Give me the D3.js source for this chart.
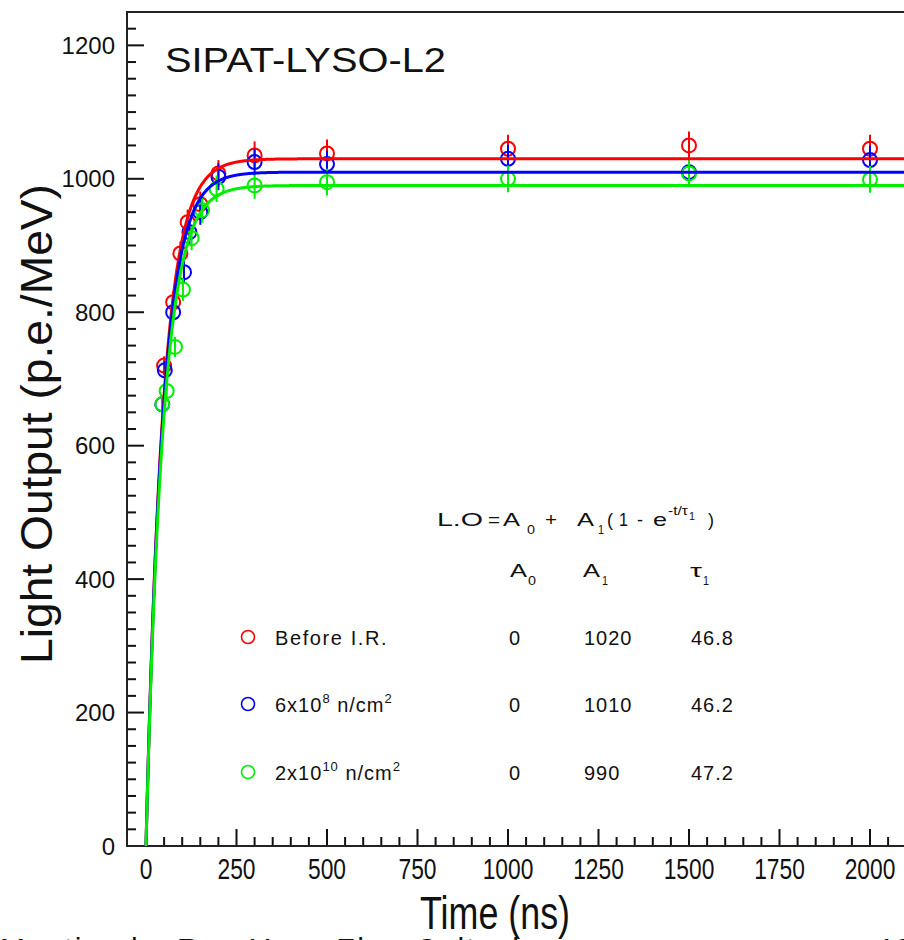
<!DOCTYPE html>
<html>
<head>
<meta charset="utf-8">
<script src="https://cdn.jsdelivr.net/npm/d3@7"></script>
<style>
  body { margin: 0; background: #fff; }
  svg { display: block; font-family: "Liberation Sans", Arial, Helvetica, sans-serif; }
</style>
</head>
<body>
<div id="chart"></div>
<script>
// --- data ---
const redTime   = [50, 75, 95, 115, 150, 200, 300, 500, 1000, 1500, 2000];
const redLO     = [720, 815, 888, 935, 962, 1008, 1035, 1038, 1045, 1050, 1045];
const redErr    = [14, 16, 18, 19, 19, 20, 21, 21, 21, 21, 21];

const blueTime  = [45, 52, 75, 105, 120, 150, 200, 300, 500, 1000, 1500, 2000];
const blueLO    = [662, 713, 800, 860, 920, 950, 1003, 1025, 1022, 1030, 1010, 1028];
const blueErr   = [13, 14, 16, 17, 18, 19, 20, 20, 20, 21, 20, 21];

const greenTime = [45, 57, 80, 102, 126, 155, 195, 300, 500, 1000, 1500, 2000];
const greenLO   = [662, 682, 748, 834, 911, 953, 985, 990, 995, 1000, 1008, 999];
const greenErr  = [13, 14, 15, 17, 18, 19, 20, 20, 20, 20, 20, 20];

// fit curves L.O = A0 + A1(1 - exp(-t/tau1)), plateau as drawn
const fitA0  = [0, 0, 0];
const fitA1  = [1030, 1010, 990];
const fitTau = [46.8, 46.2, 47.2];

// table text
const tableA0  = ["0", "0", "0"];
const tableA1  = ["1020", "1010", "990"];
const tableTau = ["46.8", "46.2", "47.2"];

const xTicks = [0, 250, 500, 750, 1000, 1250, 1500, 1750, 2000];
const yTicks = [0, 200, 400, 600, 800, 1000, 1200];

const colors = ["#ff0000", "#0000ff", "#00ee00"];

// --- layout ---
const W = 904, H = 940;
const plotLeft = 127, plotTop = 12, plotBottom = 846;

const svg = d3.select("#chart").append("svg").attr("width", W).attr("height", H);

const x = d3.scaleLinear().domain([0, 2000]).range([146, 870]);
const y = d3.scaleLinear().domain([0, 1250]).range([plotBottom, plotTop]);

svg.append("clipPath").attr("id", "plot-clip")
  .append("rect").attr("x", plotLeft).attr("y", plotTop)
  .attr("width", W - plotLeft).attr("height", plotBottom - plotTop);

// ticks pointing inward, drawn by hand
const yMinor = d3.range(0, 1250, 25);
const xMinor = d3.range(0, 2300, 50).filter(v => x(v) <= W);

svg.append("g").selectAll("line").data(yMinor).join("line")
  .attr("x1", plotLeft).attr("x2", d => plotLeft + (d % 200 === 0 ? 17 : 9))
  .attr("y1", d => y(d)).attr("y2", d => y(d))
  .attr("stroke", "#111").attr("stroke-width", 2);

svg.append("g").selectAll("line").data(xMinor).join("line")
  .attr("x1", d => x(d)).attr("x2", d => x(d))
  .attr("y1", plotBottom).attr("y2", d => plotBottom - (d % 250 === 0 ? 17 : 9))
  .attr("stroke", "#111").attr("stroke-width", 2);

// tick labels
svg.append("g").selectAll("text").data(yTicks).join("text")
  .attr("x", 115).attr("y", d => y(d)).attr("dy", "0.36em")
  .attr("text-anchor", "end").attr("font-size", 24).attr("fill", "#111")
  .text(d => d);

svg.append("g").selectAll("text").data(xTicks).join("text")
  .attr("transform", d => `translate(${x(d)},${plotBottom + 33}) scale(0.76,1)`)
  .attr("text-anchor", "middle").attr("font-size", 30).attr("fill", "#111")
  .text(d => d);

// frame
svg.append("path")
  .attr("d", `M${W},${plotTop} L${plotLeft},${plotTop} L${plotLeft},${plotBottom} L${W},${plotBottom}`)
  .attr("fill", "none").attr("stroke", "#222").attr("stroke-width", 2);

// series
const series = [
  { t: redTime, v: redLO, e: redErr },
  { t: blueTime, v: blueLO, e: blueErr },
  { t: greenTime, v: greenLO, e: greenErr }
];

const plot = svg.append("g").attr("clip-path", "url(#plot-clip)");
const tGrid = d3.range(0, 2400, 1);
const line = d3.line().x(d => x(d[0])).y(d => y(d[1]));

series.forEach((s, i) => {
  const pts = s.t.map((t, j) => ({ t: t, v: s.v[j], e: s.e[j] }));
  const g = plot.append("g");
  g.selectAll("line.err").data(pts).join("line")
    .attr("class", "err")
    .attr("x1", d => x(d.t)).attr("x2", d => x(d.t))
    .attr("y1", d => y(d.v + d.e)).attr("y2", d => y(d.v - d.e))
    .attr("stroke", colors[i]).attr("stroke-width", 2);
  g.selectAll("circle").data(pts).join("circle")
    .attr("cx", d => x(d.t)).attr("cy", d => y(d.v)).attr("r", 7)
    .attr("fill", "none").attr("stroke", colors[i]).attr("stroke-width", 2);
});

series.forEach((s, i) => {
  const curve = tGrid.map(t => [t, fitA0[i] + fitA1[i] * (1 - Math.exp(-t / fitTau[i]))]);
  plot.append("path").datum(curve)
    .attr("d", line).attr("fill", "none")
    .attr("stroke", colors[i]).attr("stroke-width", 3);
});

// title inside plot
svg.append("text").attr("x", 165).attr("y", 72)
  .attr("font-size", 35).attr("fill", "#111")
  .attr("textLength", 281).attr("lengthAdjust", "spacingAndGlyphs")
  .text("SIPAT-LYSO-L2");

// axis titles
svg.append("text")
  .attr("transform", "translate(52,424) rotate(-90)")
  .attr("text-anchor", "middle").attr("font-size", 45).attr("fill", "#111")
  .attr("textLength", 480).attr("lengthAdjust", "spacingAndGlyphs")
  .text("Light Output (p.e./MeV)");

svg.append("text").attr("x", 420).attr("y", 929)
  .attr("font-size", 46).attr("fill", "#111")
  .attr("textLength", 150).attr("lengthAdjust", "spacingAndGlyphs")
  .text("Time (ns)");

// clipped footer of the slide
svg.append("text").attr("x", 0).attr("y", 959)
  .attr("font-size", 30).attr("fill", "#111").attr("letter-spacing", 2)
  .text("Meeting by Ren-Yuan Zhu, Caltech");
svg.append("text").attr("x", 878).attr("y", 959)
  .attr("font-size", 30).attr("fill", "#111")
  .text("10");

// formula pieces, each stretched to the width seen in the picture
const piece = (xx, yy, s, fs, w) => {
  const t = svg.append("text").attr("x", xx).attr("y", yy)
    .attr("font-size", fs).attr("fill", "#111").text(s);
  if (w) t.attr("textLength", w).attr("lengthAdjust", "spacingAndGlyphs");
  return t;
};

piece(437, 526, "L.O", 19, 46);
piece(488, 526, "=", 19, 12);
piece(503, 526, "A", 19, 17);
piece(527, 534, "0", 13, 8);
piece(545, 526, "+", 19, 12);
piece(577, 526, "A", 19, 17);
piece(598, 534, "1", 13, 6);
piece(607, 526, "(", 19, 6);
piece(619, 526, "1", 19, 9);
piece(637, 526, "-", 19, 6);
piece(653, 526, "e", 19, 14);
piece(668, 515, "-t/τ", 13, 20);
piece(689, 520, "1", 10, 6);
piece(708, 526, ")", 19, 6);

// column headers
piece(510, 577, "A", 19, 17);
piece(528, 585, "0", 13, 8);
piece(583, 577, "A", 19, 17);
piece(602, 585, "1", 13, 6);
piece(690, 577, "τ", 19, 12);
piece(703, 585, "1", 13, 6);

// table rows
const rowY = [645, 712, 780];
const lg = svg.append("g");
rowY.forEach((ry, i) => {
  lg.append("circle").attr("cx", 248).attr("cy", ry - 8).attr("r", 6.5)
    .attr("fill", "none").attr("stroke", colors[i]).attr("stroke-width", 1.6);
  lg.append("text").attr("x", 509).attr("y", ry).attr("font-size", 20).attr("fill", "#111")
    .attr("letter-spacing", 1).text(tableA0[i]);
  lg.append("text").attr("x", 584).attr("y", ry).attr("font-size", 20).attr("fill", "#111")
    .attr("letter-spacing", 1).text(tableA1[i]);
  lg.append("text").attr("x", 691).attr("y", ry).attr("font-size", 20).attr("fill", "#111")
    .attr("letter-spacing", 1).text(tableTau[i]);
});

// row labels with superscripts
const lab1 = lg.append("text").attr("x", 275).attr("y", rowY[0]).attr("font-size", 20)
  .attr("fill", "#111").attr("letter-spacing", 1.6);
lab1.append("tspan").text("Before I.R.");

const lab2 = lg.append("text").attr("x", 275).attr("y", rowY[1]).attr("font-size", 20)
  .attr("fill", "#111").attr("letter-spacing", 1);
lab2.append("tspan").text("6x10");
lab2.append("tspan").attr("dy", -9).attr("font-size", 13).text("8");
lab2.append("tspan").attr("dy", 9).text(" n/cm");
lab2.append("tspan").attr("dy", -9).attr("font-size", 13).text("2");

const lab3 = lg.append("text").attr("x", 275).attr("y", rowY[2]).attr("font-size", 20)
  .attr("fill", "#111").attr("letter-spacing", 1);
lab3.append("tspan").text("2x10");
lab3.append("tspan").attr("dy", -9).attr("font-size", 13).text("10");
lab3.append("tspan").attr("dy", 9).text(" n/cm");
lab3.append("tspan").attr("dy", -9).attr("font-size", 13).text("2");
</script>
</body>
</html>
